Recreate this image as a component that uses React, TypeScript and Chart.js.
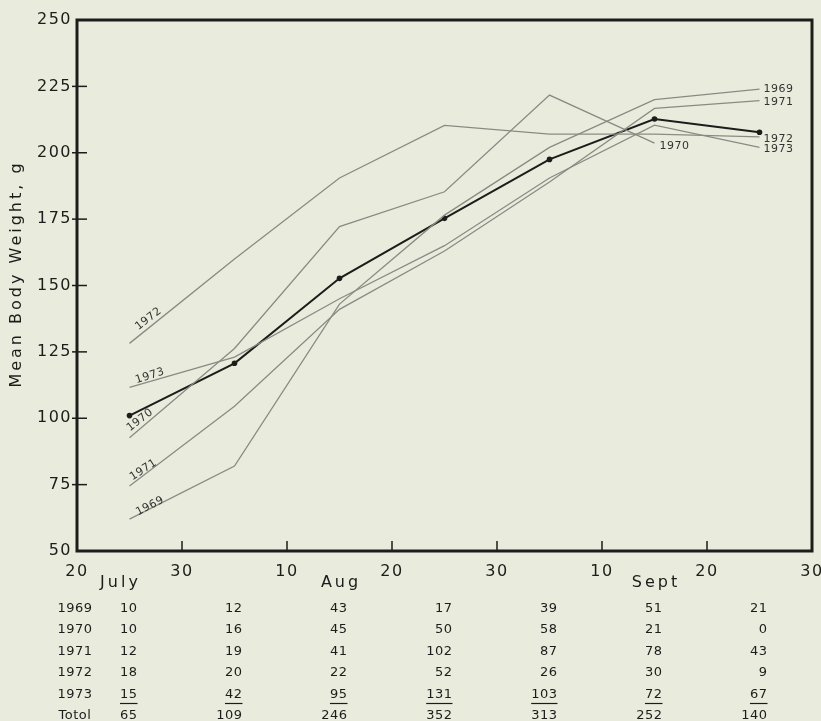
import React, { useEffect, useRef } from 'react';
import { Chart, registerables } from 'chart.js';

Chart.register(...registerables);

// ---------- data ----------
const sampleDays = [5, 15, 25, 35, 45, 55, 65]; // 10-day periods, 0 = July 20
const xTickLabels = ['20', '30', '10', '20', '30', '10', '20', '30'];
const monthNames = ['July', 'Aug', 'Sept'];
const monthDays = [4, 25, 55];

const meanWeight = [101, 120.7, 152.7, 175.3, 197.5, 212.7, 207.7];
const w1969 = [62, 82, 143, 176.5, 202, 220, 224];
const w1970 = [92.7, 126.3, 172.2, 185.3, 221.7, 203.6, null];
const w1971 = [74.5, 104.5, 141, 163, 189, 216.7, 219.6];
const w1972 = [128.2, 160, 190.5, 210.3, 207, 207, 206];
const w1973 = [111.6, 123, 145, 165, 190.5, 210.4, 202];

const yearNames = ['1969', '1970', '1971', '1972', '1973'];
const n1969 = [10, 12, 43, 17, 39, 51, 21];
const n1970 = [10, 16, 45, 50, 58, 21, 0];
const n1971 = [12, 19, 41, 102, 87, 78, 43];
const n1972 = [18, 20, 22, 52, 26, 30, 9];
const n1973 = [15, 42, 95, 131, 103, 72, 67];
const nTotal = [65, 109, 246, 352, 313, 252, 140];
const totalLabel = 'Totol';
const yTitle = 'Mean Body Weight, g';

// ---------- styles ----------
const FONT = '"DejaVu Sans", sans-serif';
const BG = '#e9ecdd';
const INK = '#1c1c1a';
const GREY = '#8a8a83';

const yearSeries = [w1969, w1970, w1971, w1972, w1973];
const countRows = [n1969, n1970, n1971, n1972, n1973];

// label offsets (pixels) relative to the first / last point of each series
const leftLabelStyle = [
  { dx: 20.5, dy: -13, rot: -27 },
  { dx: 10.5, dy: -17.5, rot: -38 },
  { dx: 14, dy: -16, rot: -33 },
  { dx: 19, dy: -24.5, rot: -38 },
  { dx: 20.5, dy: -11.5, rot: -18 },
];
const rightLabelStyle = [
  { dx: 4, dy: 0 },
  { dx: 5, dy: 2.5 },
  { dx: 4, dy: 1 },
  { dx: 4, dy: 2.5 },
  { dx: 4, dy: 2 },
];

function pts(vals: (number | null)[]) {
  return vals.map((v, i) => ({ x: sampleDays[i], y: v }));
}

const overlay = {
  id: 'overlay',
  beforeDraw(chart: any) {
    chart.ctx.letterSpacing = '1.5px';
  },
  afterDraw(chart: any) {
    const { ctx, chartArea: ca } = chart;
    const xs = chart.scales.x;
    const ys = chart.scales.y;
    ctx.save();
    ctx.letterSpacing = '0px';
    // frame
    ctx.strokeStyle = INK;
    ctx.lineWidth = 3;
    ctx.strokeRect(ca.left, ca.top, ca.right - ca.left, ca.bottom - ca.top);
    // inward ticks
    ctx.lineWidth = 1.5;
    for (let v = 75; v <= 225; v += 25) {
      const py = ys.getPixelForValue(v);
      ctx.beginPath();
      ctx.moveTo(ca.left - 5, py);
      ctx.lineTo(ca.left + 10, py);
      ctx.stroke();
    }
    for (let u = 10; u <= 60; u += 10) {
      const px = xs.getPixelForValue(u);
      ctx.beginPath();
      ctx.moveTo(px, ca.bottom);
      ctx.lineTo(px, ca.bottom - 10);
      ctx.stroke();
    }

    ctx.fillStyle = INK;
    // month labels
    ctx.font = `16px ${FONT}`;
    ctx.letterSpacing = '3px';
    ctx.textAlign = 'center';
    ctx.textBaseline = 'middle';
    monthNames.forEach((m, i) => {
      ctx.fillText(m, xs.getPixelForValue(monthDays[i]) + 1.5, ca.bottom + 32);
    });

    // y title
    ctx.save();
    ctx.translate(17, (ca.top + ca.bottom) / 2 - 10);
    ctx.rotate(-Math.PI / 2);
    ctx.font = `16px ${FONT}`;
    ctx.letterSpacing = '3px';
    ctx.fillText(yTitle, 1.5, 0);
    ctx.restore();

    // year labels on lines
    ctx.font = `11px ${FONT}`;
    ctx.letterSpacing = '0.5px';
    ctx.fillStyle = '#333';
    yearSeries.forEach((s, i) => {
      const st = leftLabelStyle[i];
      const px = xs.getPixelForValue(sampleDays[0]) + st.dx;
      const py = ys.getPixelForValue(s[0] as number) + st.dy;
      ctx.save();
      ctx.translate(px, py);
      ctx.rotate((st.rot * Math.PI) / 180);
      ctx.textAlign = 'center';
      ctx.fillText(yearNames[i], 0, 0);
      ctx.restore();
      let last = s.length - 1;
      while (s[last] == null) last--;
      const rs = rightLabelStyle[i];
      ctx.textAlign = 'left';
      ctx.fillText(
        yearNames[i],
        xs.getPixelForValue(sampleDays[last]) + rs.dx,
        ys.getPixelForValue(s[last] as number) + rs.dy
      );
    });

    // table
    ctx.fillStyle = INK;
    ctx.font = `13px ${FONT}`;
    ctx.letterSpacing = '0.5px';
    const rows = [...countRows, nTotal];
    const names = [...yearNames, totalLabel];
    rows.forEach((row, r) => {
      const py = ca.bottom + 57.5 + r * 21.5;
      ctx.textAlign = 'center';
      ctx.fillText(names[r], 75, py);
      ctx.textAlign = 'right';
      row.forEach((n, c) => {
        const px = xs.getPixelForValue(sampleDays[c]) + 8;
        const t = String(n);
        ctx.fillText(t, px, py);
        if (r === 4) {
          const w = ctx.measureText(t).width;
          ctx.lineWidth = 1.2;
          ctx.beginPath();
          ctx.moveTo(px - w, py + 9);
          ctx.lineTo(px, py + 9);
          ctx.stroke();
        }
      });
    });
    ctx.restore();
    ctx.letterSpacing = '0px';
  },
};

export default function App() {
  const ref = useRef<HTMLCanvasElement | null>(null);
  useEffect(() => {
    if (!ref.current) return;
    const yearDatasets = yearSeries.map((s, i) => ({
      label: yearNames[i],
      data: pts(s),
      borderColor: GREY,
      borderWidth: 1.3,
      pointRadius: 0,
      fill: false,
      tension: 0,
      spanGaps: false,
    }));
    const chart = new Chart(ref.current, {
      type: 'line',
      data: {
        datasets: [
          ...yearDatasets,
          {
            label: 'Mean',
            data: pts(meanWeight),
            borderColor: INK,
            backgroundColor: INK,
            borderWidth: 2,
            pointRadius: 2.8,
            pointBorderWidth: 0,
            fill: false,
            tension: 0,
          },
        ],
      },
      options: {
        responsive: false,
        animation: false,
        events: [],
        layout: { padding: { top: 20, right: 9, left: 0, bottom: 0 } },
        plugins: { legend: { display: false }, tooltip: { enabled: false }, title: { display: false } },
        scales: {
          x: {
            type: 'linear',
            min: 0,
            max: 70,
            grid: { display: false, drawTicks: false },
            border: { display: false },
            ticks: {
              stepSize: 10,
              autoSkip: false,
              maxRotation: 0,
              padding: 11,
              color: INK,
              font: { family: FONT, size: 16 },
              callback: (_v: any, i: number) => xTickLabels[i],
            },
            afterFit: (s: any) => {
              s.height = 170;
              s.paddingLeft = 0;
              s.paddingRight = 0;
            },
          },
          y: {
            type: 'linear',
            min: 50,
            max: 250,
            grid: { display: false, drawTicks: false },
            border: { display: false },
            ticks: {
              stepSize: 25,
              padding: 5,
              color: INK,
              font: { family: FONT, size: 16 },
            },
            afterFit: (s: any) => {
              s.width = 77;
              s.paddingTop = 0;
              s.paddingBottom = 0;
            },
          },
        },
      },
      plugins: [overlay],
    } as any);
    return () => chart.destroy();
  }, []);
  return (
    <div style={{ position: 'fixed', inset: 0, background: BG }}>
      <canvas ref={ref} width={821} height={721} style={{ position: 'absolute', left: 0, top: 0 }} />
    </div>
  );
}
